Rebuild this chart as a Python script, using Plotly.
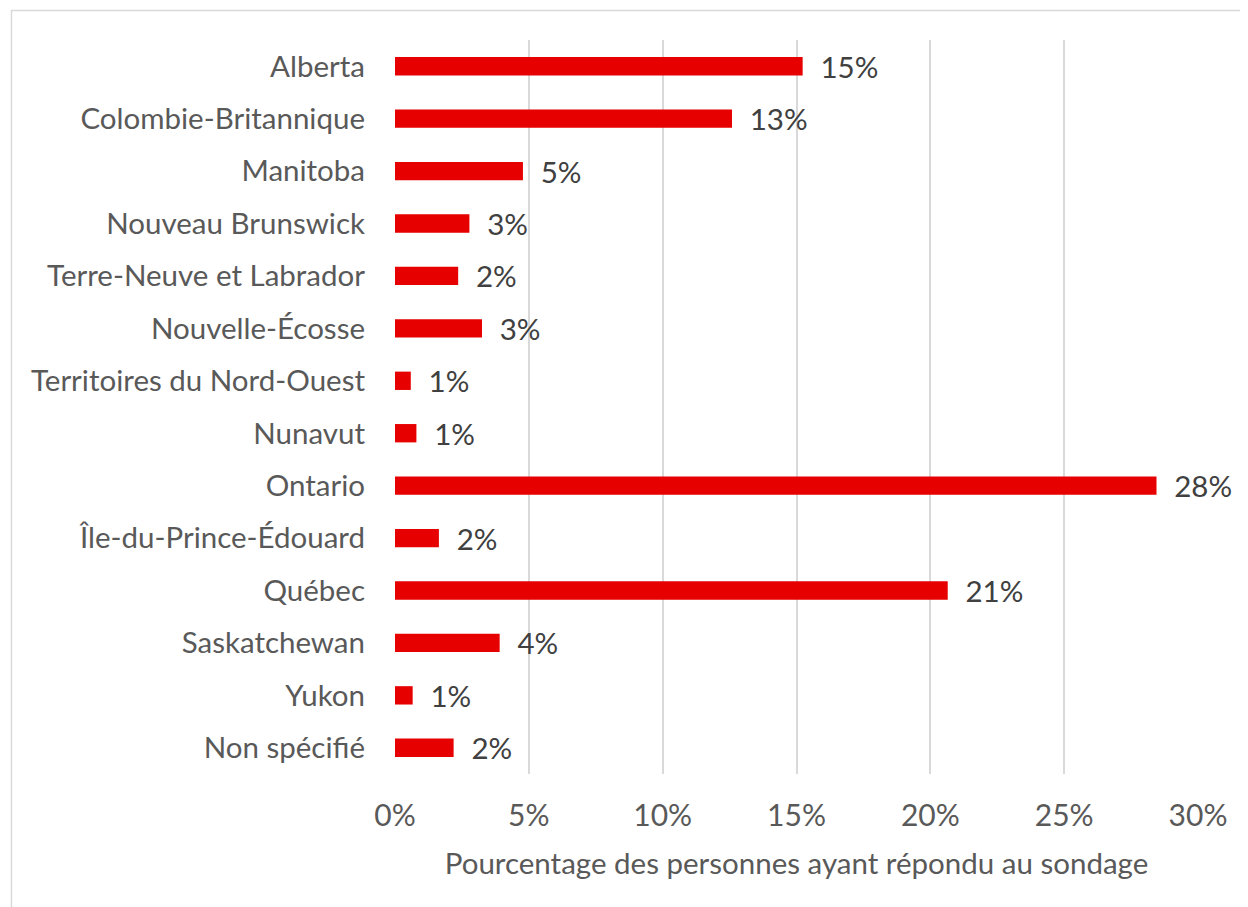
import plotly.graph_objects as go

categories = ["Alberta", "Colombie-Britannique", "Manitoba", "Nouveau Brunswick",
              "Terre-Neuve et Labrador", "Nouvelle-Écosse", "Territoires du Nord-Ouest",
              "Nunavut", "Ontario", "Île-du-Prince-Édouard", "Québec", "Saskatchewan",
              "Yukon", "Non spécifié"]
values = [0.1523, 0.1259, 0.0478, 0.0278, 0.0236, 0.0325, 0.0059,
          0.0080, 0.2845, 0.0164, 0.2065, 0.0391, 0.0066, 0.0219]
tick_vals = [0, 0.05, 0.10, 0.15, 0.20, 0.25, 0.30]
tick_text = ["0%", "5%", "10%", "15%", "20%", "25%", "30%"]
x_title = "Pourcentage des personnes ayant répondu au sondage"

FONT = "Lato, Carlito, 'Open Sans', sans-serif"
FS = 29.5
# page body has an 8px margin; compensate so the plot lands where the reference has it
OFF = 8
W, H = 1248 - OFF, 907 - OFF
L, R, T, B = 394.5 - OFF, 49.5, 40 - OFF, 132.5

fig = go.Figure(go.Bar(
    y=categories, x=values, orientation="h",
    marker=dict(color="#E60000", line=dict(width=0)),
    text=["\u2009\u2009\u2009\u2009" + f"{v:.0%}" for v in values],
    textposition="outside", cliponaxis=False, constraintext="none",
    textfont=dict(family=FONT, size=FS, color="#404040"),
    hoverinfo="skip",
))

fig.update_layout(
    width=W, height=H,
    margin=dict(l=L, r=R, t=T, b=B, autoexpand=False),
    paper_bgcolor="white", plot_bgcolor="white",
    bargap=0.65, showlegend=False,
    font=dict(family=FONT, size=FS, color="#595959"),
    xaxis=dict(range=[0, 0.30], tickvals=tick_vals, ticktext=tick_text,
               showgrid=True, gridcolor="#D9D9D9", gridwidth=1.5,
               zeroline=False, showline=False, ticks="",
               ticklabelstandoff=21,
               tickfont=dict(family=FONT, size=30, color="#595959")),
    yaxis=dict(autorange="reversed", showgrid=False, zeroline=False,
               showline=False, ticks="", ticklabelstandoff=29,
               tickfont=dict(family=FONT, size=FS, color="#595959")),
)
fig.update_xaxes(title=dict(text=x_title, standoff=22,
                            font=dict(family=FONT, size=FS, color="#595959")))

# chart-area border (top and left edges visible in the reference)
pw = W - L - R
ph = H - T - B
x0 = (10.5 - OFF - L) / pw
x1 = (W + 10 - L) / pw
y1 = 1 + (T - (10.5 - OFF)) / ph
y0 = -(B + 10) / ph
fig.add_shape(type="rect", xref="paper", yref="paper", x0=x0, x1=x1, y0=y0, y1=y1,
              line=dict(color="#D9D9D9", width=1.5), fillcolor="rgba(0,0,0,0)",
              layer="below")

fig.write_html("out.html")
